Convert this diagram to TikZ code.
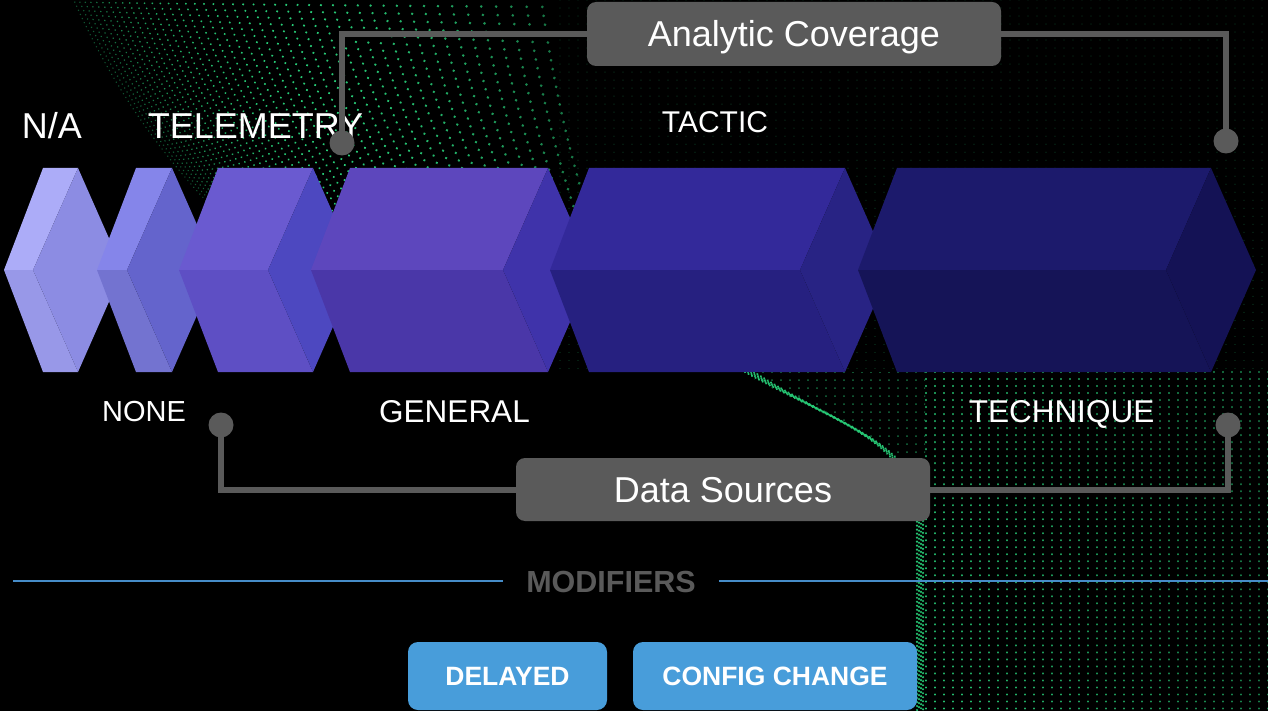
\documentclass[tikz,border=0pt]{standalone}
\usepackage{fontspec}
\setmainfont{Liberation Sans}
\definecolor{dotgreen}{RGB}{40,205,120}
\definecolor{boxgray}{RGB}{90,90,90}
\definecolor{btnblue}{RGB}{72,157,218}
\definecolor{lineblue}{RGB}{70,140,200}
\definecolor{pa1}{RGB}{172,172,248}\definecolor{pb1}{RGB}{152,152,232}\definecolor{pc1}{RGB}{140,140,227}
\definecolor{pa2}{RGB}{133,133,234}\definecolor{pb2}{RGB}{115,115,208}\definecolor{pc2}{RGB}{100,100,204}
\definecolor{pa3}{RGB}{106,90,208}\definecolor{pb3}{RGB}{94,79,196}\definecolor{pc3}{RGB}{77,72,192}
\definecolor{pa4}{RGB}{93,71,189}\definecolor{pb4}{RGB}{74,55,168}\definecolor{pc4}{RGB}{63,51,170}
\definecolor{pa5}{RGB}{51,41,154}\definecolor{pb5}{RGB}{38,32,128}\definecolor{pc5}{RGB}{40,35,132}
\definecolor{pa6}{RGB}{28,26,108}\definecolor{pb6}{RGB}{21,20,87}\definecolor{pc6}{RGB}{20,18,85}
\newcommand\drawprism[5]{%
  \fill[#3] ({#1-39},270) -- (#1,168) -- (#2,168) -- ({#2-45},270) -- cycle;
  \fill[#4] ({#1-39},270) -- ({#2-45},270) -- (#2,372) -- (#1,372) -- cycle;
  \fill[#5] (#2,168) -- ({#2+45},270) -- (#2,372) -- ({#2-45},270) -- cycle;
}
\tikzset{
  lbl/.style={text=white, inner sep=0pt, anchor=base},
  callout/.style={fill=boxgray, rounded corners=9pt, text=white, inner sep=0pt,
    font=\fontsize{36}{40}\selectfont, text height=26pt, text depth=0pt},
  conn/.style={draw=boxgray, line width=6pt},
  endpt/.style={circle, fill=boxgray, minimum size=25pt, inner sep=0pt},
  btn/.style={fill=btnblue, rounded corners=10pt, text=white, inner sep=0pt,
    font=\bfseries\fontsize{26.5}{30}\selectfont, text height=19pt, text depth=0pt},
  blueline/.style={draw=lineblue, line width=2pt},
  dotcol/.style={draw=dotgreen, line cap=round}
}
\begin{document}
\begin{tikzpicture}[x=1pt,y=-1pt]
\fill[black] (0,0) rectangle (1268,711);
\useasboundingbox (0,0) rectangle (1268,711);
% faint background dots
\foreach \k in {0,...,78}{
  \draw[dotcol, line width=1.3pt, dash pattern=on 0.01pt off 8pt, opacity=0.18] ({560+9*\k},0) -- ({560+9*\k},372);
}
% top-left wave band
\foreach \k in {0,...,45}{
  \pgfmathsetmacro\xt{73+\k*(5+0.12*\k)}
  \pgfmathsetmacro\xb{200+\k*(4+0.1*\k)}
  \pgfmathsetmacro\xe{\xt+(\xb-\xt)*1.5294}
  \pgfmathsetmacro\op{0.4+0.6*sin(180*\k/50)}
  \pgfmathsetmacro\lw{1.6+1.4*\k/45}
  \pgfmathsetmacro\gp{4.5+0.1*\k}
  \draw[dotcol, line width=\lw pt, dash pattern=on 0.01pt off \gp pt, opacity=\op]
    (\xt,-2) .. controls ({\xt+0.2*(\xe-\xt)},87) and ({\xt+0.5*(\xe-\xt)},175) .. (\xe,260);
}
% bottom-right region
\begin{scope}
  \clip (740,372) .. controls (840,425) and (915,440) .. (925,520) -- (925,372) -- cycle;
  \foreach \k in {0,...,20}{
    \draw[dotcol, line width=2pt, dash pattern=on 0.01pt off 8pt, opacity=0.55] ({745+9*\k},372) -- ({745+9*\k},540);
  }
\end{scope}
\foreach \k in {0,...,39}{
  \pgfmathsetmacro\op{0.95-0.35*\k/39}
  \draw[dotcol, line width=2.4pt, dash pattern=on 0.01pt off 7pt, opacity=\op] ({926+9*\k},372) -- ({926+9*\k},711);
}
\foreach \j in {0,...,3}{
  \draw[dotcol, line width=2.4pt, dash pattern=on 0.01pt off 4pt, opacity=0.95]
    ({745+3*\j},372) .. controls ({840+2*\j},{425+2*\j}) and ({912+2*\j},440) .. ({917+2*\j},520) -- ({917+2*\j},711);
}
% prisms
\drawprism{43}{78}{pa1}{pb1}{pc1}
\drawprism{136}{172}{pa2}{pb2}{pc2}
\drawprism{218}{313}{pa3}{pb3}{pc3}
\drawprism{350}{548}{pa4}{pb4}{pc4}
\drawprism{589}{845}{pa5}{pb5}{pc5}
\drawprism{897}{1211}{pa6}{pb6}{pc6}
% labels
\node[lbl, font=\fontsize{36}{40}\selectfont] (na) at (52,139) {N/A};
\node[lbl, font=\fontsize{36}{40}\selectfont] (tel) at (255.5,139) {TELEMETRY};
\node[lbl, font=\fontsize{30}{34}\selectfont] (tac) at (715,133) {TACTIC};
\node[lbl, font=\fontsize{29}{33}\selectfont] (non) at (144,421) {NONE};
\node[lbl, font=\fontsize{31.5}{35}\selectfont] (gen) at (454.5,422) {GENERAL};
\node[lbl, font=\fontsize{31.5}{35}\selectfont] (tec) at (1061.5,422) {TECHNIQUE};
% callouts
\node[callout, minimum width=414pt, minimum height=64pt] (ac) at (794,34) {Analytic Coverage};
\node[callout, minimum width=414pt, minimum height=63pt] (ds) at (723,489.5) {Data Sources};
\node[endpt] (e1) at (342,143) {};
\node[endpt] (e2) at (1226,141) {};
\node[endpt] (e3) at (221,425) {};
\node[endpt] (e4) at (1228,425) {};
\draw[conn] (ac.west) -| (e1.center);
\draw[conn] (ac.east) -| (e2.center);
\draw[conn] (ds.west) -| (e3.center);
\draw[conn] (ds.east) -| (e4.center);
% modifiers
\node[text=boxgray, inner ysep=0pt, inner xsep=23pt, font=\bfseries\fontsize{30.5}{34}\selectfont, text height=22pt, text depth=0pt] (mod) at (611,581) {MODIFIERS};
\coordinate (ml) at (13,581);
\coordinate (mr) at (1268,581);
\draw[blueline] (ml) -- (mod.west);
\draw[blueline] (mod.east) -- (mr);
\node[btn, minimum width=199pt, minimum height=68pt] (b1) at (507.5,676) {DELAYED};
\node[btn, minimum width=284pt, minimum height=68pt] (b2) at (775,676) {CONFIG CHANGE};
\end{tikzpicture}
\end{document}
